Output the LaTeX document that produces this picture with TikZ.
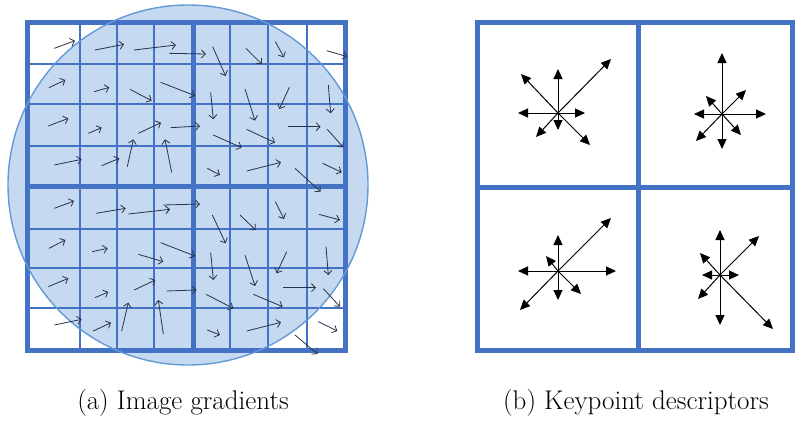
\documentclass[tikz,border=0pt]{standalone}
\usepackage{fontspec}
\usetikzlibrary{arrows.meta}
\definecolor{gridblue}{RGB}{68,114,196}
\definecolor{discfill}{RGB}{197,217,240}
\definecolor{discline}{RGB}{100,155,215}
\definecolor{gradink}{RGB}{40,50,72}
\begin{document}
\begin{tikzpicture}[x=1pt,y=-1pt,
 thin grid/.style={gridblue,line width=2.4pt},
 thick grid/.style={gridblue,line width=5pt},
 grad/.style={gradink,line width=0.8pt,-{Straight Barb[length=4pt,width=8pt]}},
 bin/.style={black,line width=1pt,-{Triangle[length=10pt,width=9pt]}},
 subcap/.style={font=\fontsize{27}{32}\selectfont}]
\useasboundingbox (0,0) rectangle (795,421);
% (a) gradient samples inside the Gaussian window
\fill[discfill] (188,185) circle [radius=180];
\foreach \p in {80,117,154,230,268,307}
  \draw[thin grid] (\p,22) -- (\p,350);
\foreach \p in {64,104,146,229,268,308}
  \draw[thin grid] (27,\p) -- (345,\p);
\draw[thick grid] (27,22) rectangle (345,350);
\draw[thick grid] (193,22) -- (193,350) (27,186) -- (345,186);
\draw[discline,line width=1.4pt] (188,185) circle [radius=180];
\begin{scope}[x=1pt/3,y=-1pt/3]
\foreach \a/\b/\c/\d in {
 163/145/225/122, 285/150/372/133, 402/150/528/135, 508/160/618/162,
 638/140/677/228, 738/145/785/192, 826/125/852/172, 980/152/1042/170,
 147/263/196/240, 282/275/328/262, 390/268/455/302, 482/247/585/287,
 632/277/640/358, 735/267/765/362, 868/262/838/327, 985/255/992/340,
 145/378/205/355, 265/400/305/383, 415/400/483/368, 512/383/600/378,
 640/405/725/443, 740/388/825/428, 865/380/962/380, 982/388/1030/442,
 163/495/245/478, 305/497/358/475, 382/500/400/418, 515/517/495/418,
 622/505/660/525, 740/513/843/487, 885/505/962/575, 968/490/1025/517,
 163/625/222/603, 288/640/377/625, 385/642/510/628, 490/615/600/612,
 637/645/677/730, 720/645/767/690, 826/605/852/657, 957/643/1020/660,
 147/745/196/720, 277/755/323/745, 415/763/490/785, 482/728/585/768,
 632/757/640/840, 735/765/765/858, 860/755/830/820, 978/740/985/825,
 145/860/205/835, 285/893/325/876, 403/870/466/840, 500/873/590/870,
 618/883/700/925, 760/883/848/920, 850/863/948/863, 970/866/1020/920,
 163/975/245/958, 280/993/333/968, 365/993/385/908, 490/1002/475/900,
 622/990/660/1005, 740/993/843/967, 885/1005/953/1062, 955/965/1012/993}
  \draw[grad] (\a,\b) -- (\c,\d);
\end{scope}
\node[subcap] (capa) at (183,403) {(a) Image gradients};
% (b) orientation histograms of the 2x2 subregions
\draw[thick grid] (477,22) rectangle (792,350);
\draw[thick grid] (638,22) -- (638,350) (477,187) -- (792,187);
\coordinate (tl) at (558,113);
\coordinate (tr) at (722,114);
\coordinate (bl) at (558,271);
\coordinate (br) at (720,275);
\foreach \dx/\dy in {0/-44,-40/0,27/0,0/17,-37/-39,53/-54,32/32,-22/24}
  \draw[bin] (tl) -- ++(\dx,\dy);
\foreach \dx/\dy in {0/-61,0/35,-28/0,44/0,24/-24,-16/-18,19/21,-26/27}
  \draw[bin] (tr) -- ++(\dx,\dy);
\foreach \dx/\dy in {0/-36,0/29,-40/0,58/0,53/-53,-12/-15,23/23,-38/39}
  \draw[bin] (bl) -- ++(\dx,\dy);
\foreach \dx/\dy in {0/-45,0/50,-18/0,19/0,39/-39,-20/-22,53/54,-22/24}
  \draw[bin] (br) -- ++(\dx,\dy);
\node[subcap] (capb) at (636,403) {(b) Keypoint descriptors};
\end{tikzpicture}
\end{document}
